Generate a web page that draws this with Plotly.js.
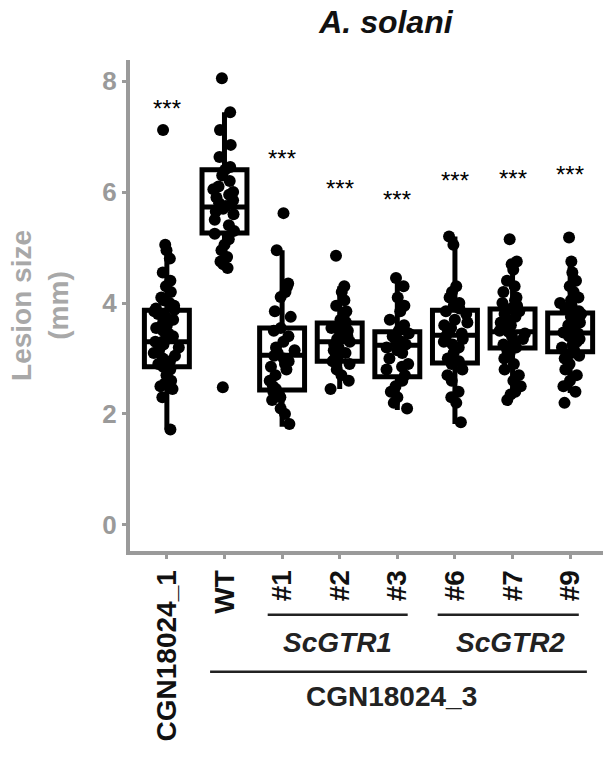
<!DOCTYPE html>
<html>
<head>
<meta charset="utf-8">
<script src="https://cdn.plot.ly/plotly-3.0.1.min.js"></script>
<style>html,body{margin:0;padding:0;background:#fff;}#chart{width:603px;height:758px;}</style>
</head>
<body>
<div id="chart"></div>
<script>
// Categories (x axis)
var categories = ["CGN18024_1", "WT", "#1", "#2", "#3", "#6", "#7", "#9"];

// Individual lesion sizes (mm) per genotype
var vCGN1 = [7.12, 5.05, 4.95, 4.8, 4.55, 4.4, 4.3, 4.2, 4.1, 4.05, 4.0, 3.95, 3.9, 3.88, 3.85, 3.8, 3.75, 3.7, 3.65, 3.6, 3.55, 3.5, 3.45, 3.4, 3.35, 3.3, 3.3, 3.25, 3.2, 3.15, 3.1, 3.05, 3.0, 2.95, 2.9, 2.85, 2.8, 2.7, 2.6, 2.55, 2.5, 2.45, 2.3, 1.72];
var vWT = [8.05, 7.44, 7.12, 6.85, 6.63, 6.45, 6.4, 6.3, 6.2, 6.1, 6.05, 6.0, 5.95, 5.9, 5.85, 5.8, 5.75, 5.7, 5.65, 5.6, 5.5, 5.4, 5.3, 5.25, 5.15, 5.05, 4.95, 4.83, 4.75, 4.7, 4.63, 2.48];
var vL1 = [5.62, 4.95, 4.35, 4.29, 4.2, 4.11, 3.85, 3.75, 3.55, 3.5, 3.4, 3.3, 3.2, 3.15, 3.1, 3.05, 3.0, 2.95, 2.9, 2.85, 2.8, 2.7, 2.6, 2.5, 2.45, 2.4, 2.3, 2.25, 2.1, 2.0, 1.82];
var vL2 = [4.85, 4.3, 4.2, 4.05, 3.95, 3.85, 3.75, 3.7, 3.65, 3.6, 3.55, 3.5, 3.45, 3.4, 3.35, 3.3, 3.25, 3.2, 3.15, 3.1, 3.05, 3.0, 2.95, 2.9, 2.8, 2.7, 2.6, 2.45];
var vL3 = [4.45, 4.3, 4.1, 3.95, 3.85, 3.7, 3.6, 3.5, 3.45, 3.4, 3.35, 3.3, 3.25, 3.2, 3.15, 3.1, 3.0, 2.9, 2.85, 2.8, 2.7, 2.6, 2.5, 2.4, 2.3, 2.2, 2.1];
var vL6 = [5.2, 5.05, 4.3, 4.2, 4.1, 4.0, 3.95, 3.9, 3.85, 3.8, 3.7, 3.65, 3.6, 3.55, 3.5, 3.45, 3.4, 3.35, 3.3, 3.25, 3.2, 3.1, 3.0, 2.95, 2.9, 2.8, 2.7, 2.6, 2.4, 2.3, 2.2, 1.85];
var vL7 = [5.15, 4.75, 4.7, 4.6, 4.4, 4.3, 4.2, 4.1, 4.05, 4.0, 3.95, 3.9, 3.85, 3.8, 3.75, 3.7, 3.65, 3.6, 3.55, 3.5, 3.48, 3.45, 3.4, 3.35, 3.3, 3.25, 3.2, 3.15, 3.1, 3.0, 2.9, 2.8, 2.7, 2.6, 2.5, 2.4, 2.35, 2.25];
var vL9 = [5.18, 4.75, 4.55, 4.4, 4.3, 4.2, 4.1, 4.05, 4.0, 3.95, 3.9, 3.85, 3.82, 3.8, 3.75, 3.7, 3.65, 3.6, 3.55, 3.5, 3.47, 3.45, 3.4, 3.35, 3.3, 3.25, 3.2, 3.15, 3.1, 3.05, 3.0, 2.9, 2.8, 2.7, 2.6, 2.5, 2.4, 2.2];

// Box statistics per genotype
var q1 = [2.85, 5.26, 2.43, 2.95, 2.67, 2.92, 3.19, 3.12];
var median = [3.3, 5.73, 3.06, 3.3, 3.24, 3.42, 3.48, 3.46];
var q3 = [3.87, 6.4, 3.55, 3.64, 3.48, 3.87, 3.89, 3.82];
var lowerfence = [1.72, 4.63, 1.77, 2.45, 2.07, 1.82, 2.38, 2.38];
var upperfence = [4.95, 7.44, 4.95, 4.3, 4.38, 5.2, 4.77, 4.72];

// Significance labels
var sigLabels = ["***", "", "***", "***", "***", "***", "***", "***"];
var sigY = [7.5, 0, 6.6, 6.06, 5.86, 6.2, 6.24, 6.31];

var groups = [vCGN1, vWT, vL1, vL2, vL3, vL6, vL7, vL9];

var FONT = "Liberation Sans, Arial, sans-serif";
var GRAY = "#9a9a9a";

var px = [], py = [];
groups.forEach(function (g, i) {
  g.forEach(function (v) { px.push(categories[i]); py.push(v); });
});

var boxTrace = {
  type: "box",
  x: categories,
  q1: q1, median: median, q3: q3,
  lowerfence: lowerfence, upperfence: upperfence,
  width: 0.78,
  whiskerwidth: 0,
  line: {color: "#000", width: 5},
  fillcolor: "rgba(255,255,255,0)",
  boxpoints: false,
  hoverinfo: "skip",
  showlegend: false
};

var pointTrace = {
  type: "box",
  x: px, y: py,
  width: 0.78,
  boxpoints: "all",
  jitter: 0.6,
  pointpos: 0,
  line: {color: "rgba(0,0,0,0)", width: 0},
  fillcolor: "rgba(0,0,0,0)",
  marker: {color: "#000", size: 12, line: {width: 0}},
  showlegend: false
};

var annotations = [];
categories.forEach(function (c, i) {
  if (sigLabels[i]) {
    annotations.push({x: i, y: sigY[i], xref: "x", yref: "y", text: sigLabels[i],
      showarrow: false, font: {family: FONT, size: 24, color: "#000"}});
  }
});
annotations.push({x: 2.96, y: -0.187, xref: "x", yref: "paper", yanchor: "middle", xanchor: "center",
  text: "<b><i>ScGTR1</i></b>", showarrow: false, font: {family: FONT, size: 28, color: "#222"}});
annotations.push({x: 5.96, y: -0.187, xref: "x", yref: "paper", yanchor: "middle", xanchor: "center",
  text: "<b><i>ScGTR2</i></b>", showarrow: false, font: {family: FONT, size: 28, color: "#222"}});
annotations.push({x: 3.9, y: -0.297, xref: "x", yref: "paper", yanchor: "middle", xanchor: "center",
  text: "<b>CGN18024_3</b>", showarrow: false, font: {family: FONT, size: 28, color: "#222"}});

var shapes = [
  {type: "line", xref: "x", yref: "paper", x0: 1.75, x1: 4.18, y0: -0.130, y1: -0.130, line: {color: "#222", width: 2.5}},
  {type: "line", xref: "x", yref: "paper", x0: 4.7, x1: 7.15, y0: -0.130, y1: -0.130, line: {color: "#222", width: 2.5}},
  {type: "line", xref: "x", yref: "paper", x0: 0.75, x1: 7.29, y0: -0.246, y1: -0.246, line: {color: "#222", width: 2.5}}
];

var layout = {
  width: 603, height: 758,
  margin: {l: 130, r: 0, t: 60, b: 207},
  paper_bgcolor: "#fff", plot_bgcolor: "#fff",
  font: {family: FONT},
  boxmode: "overlay",
  showlegend: false,
  title: {text: "<b><i>A. solani</i></b>", font: {family: FONT, size: 32, color: "#111"},
    x: 0.64, xref: "container", xanchor: "center", y: 0.971, yref: "container", yanchor: "middle"},
  xaxis: {
    type: "category", categoryorder: "array", categoryarray: categories,
    range: [-0.64, 7.57],
    showline: true, linecolor: GRAY, linewidth: 4,
    ticks: "outside", ticklen: 4, tickwidth: 3, tickcolor: GRAY,
    tickangle: -90,
    tickfont: {family: FONT, size: 28, color: "#111", weight: "bold"},
    showgrid: false, zeroline: false
  },
  yaxis: {
    range: [-0.47, 8.38],
    tickvals: [0, 2, 4, 6, 8],
    showline: true, linecolor: GRAY, linewidth: 4,
    ticks: "outside", ticklen: 4, tickwidth: 3, tickcolor: GRAY,
    tickfont: {family: FONT, size: 26, color: GRAY, weight: "bold"},
    showgrid: false, zeroline: false,
    title: {text: "<b>Lesion size<br>(mm)</b>", font: {family: FONT, size: 28, color: "#a8a8a8"}, standoff: 27}
  },
  annotations: annotations,
  shapes: shapes
};

Plotly.newPlot("chart", [boxTrace, pointTrace], layout, {displayModeBar: false, staticPlot: true});
</script>
</body>
</html>
